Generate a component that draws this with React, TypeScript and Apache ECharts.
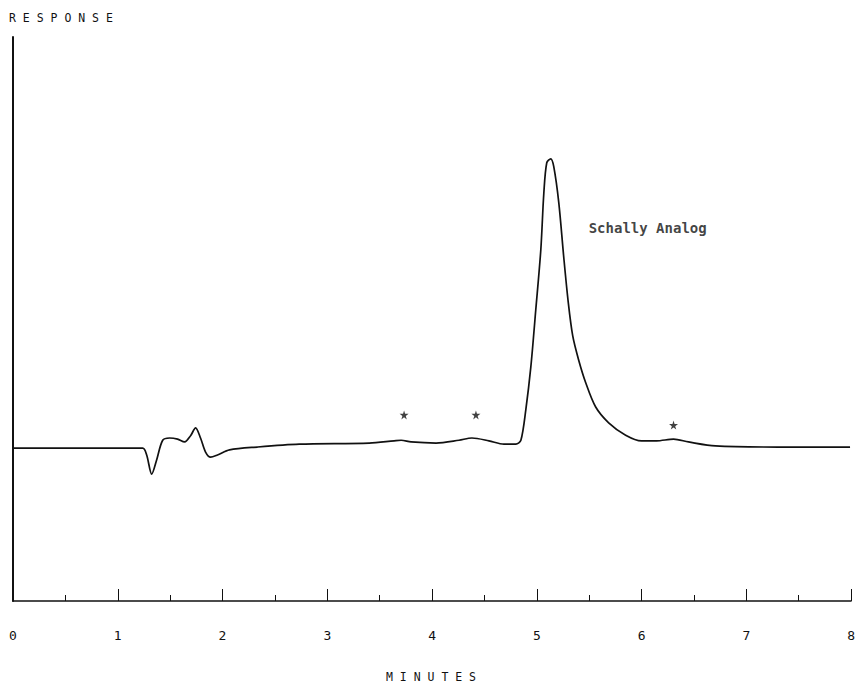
import React, { useEffect, useRef } from "react";
import * as echarts from "echarts";

// Retention time (minutes) and detector response (arbitrary units, 0-100)
const times = [
  0.0, 1.238, 1.276, 1.324, 1.371, 1.429, 1.495, 1.571, 1.638, 1.695, 1.743, 1.79, 1.838,
  1.886, 1.952, 2.067, 2.333, 2.733, 3.4, 3.638, 3.705, 3.8, 4.038, 4.257, 4.381, 4.543,
  4.686, 4.8, 4.848, 4.895, 4.943, 4.99, 5.038, 5.067, 5.095, 5.133, 5.162, 5.21, 5.257,
  5.3, 5.343, 5.4, 5.467, 5.562, 5.686, 5.848, 6.0, 6.143, 6.305, 6.448, 6.705, 7.305, 7.99,
];
const response = [
  27.1, 27.1, 25.9, 22.5, 25.0, 28.5, 28.9, 28.7, 28.2, 29.3, 30.7, 28.9, 26.4,
  25.5, 25.9, 26.8, 27.3, 27.8, 28.0, 28.4, 28.5, 28.2, 28.0, 28.5, 28.9, 28.4,
  27.8, 27.8, 28.5, 33.9, 41.5, 51.6, 62.2, 72.3, 77.7, 78.4, 77.0, 70.6, 61.0,
  53.0, 47.0, 42.7, 38.7, 34.4, 31.6, 29.4, 28.4, 28.4, 28.7, 28.2, 27.5, 27.3, 27.3,
];

// Starred minor peaks
const starTimes = [3.733, 4.419, 6.305];
const starLevels = [33.0, 33.0, 31.2];

// Annotation
const peakLabel = "Schally Analog";
const peakLabelPos = [5.495, 66.1];

const xTicks = ["0", "1", "2", "3", "4", "5", "6", "7", "8"];
const yTitle = "R E S P O N S E";
const xTitle = "M I N U T E S";

const STAR =
  "path://M50,0 L61,35 L98,35 L68,57 L79,91 L50,70 L21,91 L32,57 L2,35 L39,35 Z";

export default function App() {
  const ref = useRef<HTMLDivElement>(null);

  useEffect(() => {
    if (!ref.current) return;
    const chart = echarts.init(ref.current, undefined, { renderer: "svg" });
    const mono = "DejaVu Sans Mono";
    chart.setOption({
      animation: false,
      backgroundColor: "#ffffff",
      grid: { left: 13, right: 5, top: 37, bottom: 87, containLabel: false },
      xAxis: {
        type: "value",
        min: 0,
        max: 8,
        interval: 1,
        axisLine: { show: true, lineStyle: { color: "#111", width: 1.5 } },
        axisTick: { show: true, inside: true, length: 12, lineStyle: { color: "#111", width: 1 } },
        minorTick: { show: true, splitNumber: 2, length: 6, lineStyle: { color: "#111", width: 1 } },
        splitLine: { show: false },
        axisLabel: {
          margin: 28,
          color: "#111",
          fontFamily: mono,
          fontSize: 13,
          formatter: (v: number) => xTicks[Math.round(v)] ?? "",
        },
      },
      yAxis: {
        type: "value",
        min: 0,
        max: 100,
        axisLine: { show: true, lineStyle: { color: "#111", width: 2 } },
        axisTick: { show: false },
        axisLabel: { show: false },
        splitLine: { show: false },
      },
      graphic: [
        {
          type: "text",
          left: 9,
          top: 12,
          style: { text: yTitle, fontFamily: mono, fontSize: 11.5, fill: "#111" },
        },
        {
          type: "text",
          left: 386,
          top: 671,
          style: { text: xTitle, fontFamily: mono, fontSize: 11.5, fill: "#111" },
        },
      ],
      series: [
        {
          type: "line",
          data: times.map((t, i) => [t, response[i]]),
          smooth: 0.3,
          showSymbol: false,
          lineStyle: { color: "#111", width: 1.7 },
          silent: true,
        },
        {
          type: "scatter",
          data: starTimes.map((t, i) => [t, starLevels[i]]),
          symbol: STAR,
          symbolSize: 9,
          itemStyle: { color: "#111" },
          silent: true,
        },
        {
          type: "scatter",
          data: [peakLabelPos],
          symbolSize: 0,
          silent: true,
          label: {
            show: true,
            position: "right",
            distance: 0,
            formatter: peakLabel,
            fontFamily: mono,
            fontWeight: "bold",
            fontSize: 14,
            color: "#111",
          },
        },
      ],
    });
    return () => chart.dispose();
  }, []);

  return (
    <div
      ref={ref}
      style={{ position: "fixed", left: 0, top: 0, width: 858, height: 688 }}
    />
  );
}
